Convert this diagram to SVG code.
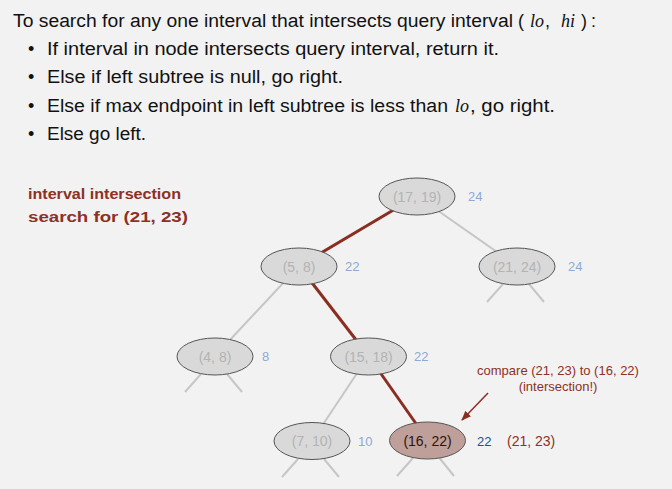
<svg xmlns="http://www.w3.org/2000/svg" width="672" height="489" viewBox="0 0 672 489">
<defs>
<style>
.h{font-family:"Liberation Sans",Arial,sans-serif;font-size:18px;fill:#111}
.it{font-family:"Liberation Serif","Times New Roman",serif;font-style:italic;font-size:18px;fill:#111}
.lbl{font-family:"Liberation Sans",Arial,sans-serif;font-size:14px;font-weight:bold;fill:#8c3124}
.nd ellipse{fill:#d9d9d9;stroke:#555;stroke-width:1}
.nt{font-family:"Liberation Sans",Arial,sans-serif;font-size:14px;fill:#b3b3b3;text-anchor:middle}
.mx{font-family:"Liberation Sans",Arial,sans-serif;font-size:13px;fill:#8ea9d4}
.g{stroke:#c6c6c6;stroke-width:2;fill:none}
.r{stroke:#8b2e22;stroke-width:3;fill:none}
.an{font-family:"Liberation Sans",Arial,sans-serif;font-size:13px;fill:#8c3124;text-anchor:middle}
</style>
<marker id="ah" markerWidth="10" markerHeight="8" refX="9" refY="4" orient="auto" markerUnits="userSpaceOnUse">
<path d="M0,0 L10,4 L0,8 z" fill="#8b2e22"/>
</marker>
</defs>
<rect width="672" height="489" fill="#f2f2f2"/>

<g id="header">
<text class="h" x="13" y="27" textLength="500" lengthAdjust="spacingAndGlyphs">To search for any one interval that intersects query interval</text>
<text class="h" x="518" y="27">(</text>
<text class="it" x="530" y="27">lo</text>
<text class="h" x="545" y="27">,</text>
<text class="it" x="561" y="27">hi</text>
<text class="h" x="581" y="27">)</text>
<text class="h" x="591" y="27">:</text>
<text class="h" x="28" y="55">•</text>
<text class="h" x="47" y="55" textLength="452" lengthAdjust="spacingAndGlyphs">If interval in node intersects query interval, return it.</text>
<text class="h" x="28" y="83">•</text>
<text class="h" x="47" y="83" textLength="296" lengthAdjust="spacingAndGlyphs">Else if left subtree is null, go right.</text>
<text class="h" x="28" y="112">•</text>
<text class="h" x="47" y="112" textLength="401" lengthAdjust="spacingAndGlyphs">Else if max endpoint in left subtree is less than</text>
<text class="it" x="455" y="112">lo</text>
<text class="h" x="470" y="112" textLength="85" lengthAdjust="spacingAndGlyphs">, go right.</text>
<text class="h" x="28" y="140">•</text>
<text class="h" x="47" y="140" textLength="99" lengthAdjust="spacingAndGlyphs">Else go left.</text>
</g>

<g id="caption">
<text class="lbl" x="28" y="199" textLength="153" lengthAdjust="spacingAndGlyphs">interval intersection</text>
<text class="lbl" x="28" y="222" textLength="160" lengthAdjust="spacingAndGlyphs">search for (21, 23)</text>
</g>

<g id="connectors">
<line class="g" x1="417" y1="196" x2="517" y2="266"/>
<line class="r" x1="417" y1="196" x2="299" y2="266"/>
<line class="g" x1="299" y1="266" x2="215" y2="356"/>
<line class="r" x1="299" y1="266" x2="368.5" y2="356"/>
<line class="g" x1="368.5" y1="356" x2="312" y2="441"/>
<line class="r" x1="368.5" y1="356" x2="427.5" y2="440"/>
<line class="g" x1="503" y1="284" x2="487" y2="302"/>
<line class="g" x1="529" y1="284" x2="544" y2="302"/>
<line class="g" x1="201" y1="374" x2="185" y2="392"/>
<line class="g" x1="227" y1="374" x2="242" y2="392"/>
<line class="g" x1="298" y1="459" x2="282" y2="477"/>
<line class="g" x1="324" y1="459" x2="339" y2="477"/>
<line class="g" x1="413" y1="458" x2="397" y2="476"/>
<line class="g" x1="439.5" y1="458" x2="454" y2="476"/>
<line x1="488" y1="393" x2="462" y2="420" stroke="#8b2e22" stroke-width="1.5" marker-end="url(#ah)"/>
</g>

<g id="n17_19" class="nd">
<ellipse cx="417" cy="196.5" rx="38" ry="18.5"/>
<text class="nt" x="417" y="201.5">(17, 19)</text>
<text class="mx" x="468" y="201">24</text>
</g>
<g id="n5_8" class="nd">
<ellipse cx="299" cy="266.5" rx="38" ry="18.5"/>
<text class="nt" x="299" y="271.5">(5, 8)</text>
<text class="mx" x="345" y="271">22</text>
</g>
<g id="n21_24" class="nd">
<ellipse cx="517" cy="266.5" rx="38" ry="18.5"/>
<text class="nt" x="517" y="271.5">(21, 24)</text>
<text class="mx" x="568" y="271">24</text>
</g>
<g id="n4_8" class="nd">
<ellipse cx="215" cy="356.5" rx="38" ry="18.5"/>
<text class="nt" x="215" y="361.5">(4, 8)</text>
<text class="mx" x="262" y="361">8</text>
</g>
<g id="n15_18" class="nd">
<ellipse cx="368.5" cy="356.5" rx="38" ry="18.5"/>
<text class="nt" x="368.5" y="361.5">(15, 18)</text>
<text class="mx" x="414" y="361">22</text>
</g>
<g id="n7_10" class="nd">
<ellipse cx="312" cy="441" rx="38" ry="18.5"/>
<text class="nt" x="312" y="446">(7, 10)</text>
<text class="mx" x="358" y="446">10</text>
</g>
<g id="n16_22">
<ellipse cx="427.5" cy="440.5" rx="38" ry="18.5" fill="#bf9f99" stroke="#555" stroke-width="1"/>
<text class="nt" x="427.5" y="445.5" style="fill:#2a1410">(16, 22)</text>
<text class="mx" x="477" y="445.5" style="fill:#1f4f9e">22</text>
<text class="mx" x="507" y="445.5" style="fill:#8c3124;font-size:14px">(21, 23)</text>
</g>

<g id="annotation">
<text class="an" x="558" y="375">compare (21, 23) to (16, 22)</text>
<text class="an" x="558" y="391">(intersection!)</text>
</g>
</svg>
